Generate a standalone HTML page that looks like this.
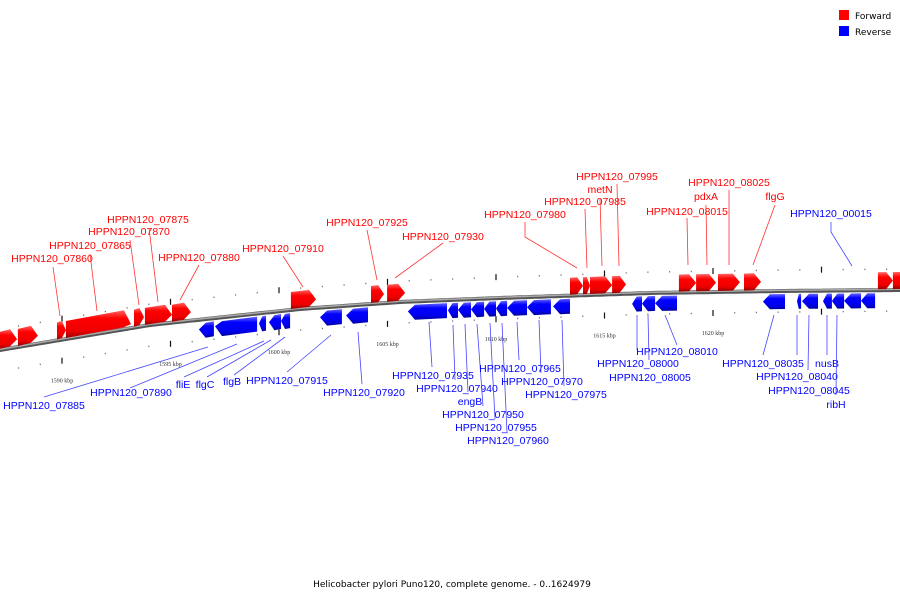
<!DOCTYPE html>
<html><head><meta charset="utf-8">
<style>
body{margin:0;background:#fff;}
svg{display:block;font-family:"DejaVu Sans","Liberation Sans",sans-serif;}
</style></head>
<body>
<svg id="chart" width="900" height="600" viewBox="0 0 900 600">
<defs>
<linearGradient id="gf" x1="0" y1="0" x2="0" y2="1"><stop offset="0" stop-color="#ff6666"/><stop offset="0.3" stop-color="#ff0000"/><stop offset="0.75" stop-color="#ee0000"/><stop offset="1" stop-color="#990000"/></linearGradient>
<linearGradient id="gr" x1="0" y1="0" x2="0" y2="1"><stop offset="0" stop-color="#6666ff"/><stop offset="0.3" stop-color="#0000ff"/><stop offset="0.75" stop-color="#0000ee"/><stop offset="1" stop-color="#000099"/></linearGradient>
</defs>
<g id="ticks"></g>
<g id="backbone"></g>
<g id="genes"></g>
<g id="labels"></g>
<g>
<rect x="839" y="10" width="10" height="10" fill="#ff0000"/>
<text x="855" y="19" font-size="9" fill="#000">Forward</text>
<rect x="839" y="26" width="10" height="10" fill="#0000ff"/>
<text x="855" y="35" font-size="9" fill="#000">Reverse</text>
</g>
<text x="452" y="587" font-size="9" text-anchor="middle" fill="#000">Helicobacter pylori Puno120, complete genome. - 0..1624979</text>
</svg>
<script>
const fwdStart=[1587.0,1587.97,1589.77,1590.18,1593.32,1593.82,1595.07,1600.55,1604.24,1604.98,1613.41,1614.01,1614.33,1615.35,1618.43,1619.22,1620.23,1621.43,1627.60,1628.29];
const fwdEnd  =[1587.93,1588.89,1590.18,1593.18,1593.78,1595.07,1595.94,1601.71,1604.84,1605.81,1614.01,1614.33,1615.35,1615.99,1619.22,1620.14,1621.24,1622.21,1628.29,1629.2];
const revStart=[1596.31,1597.05,1599.08,1599.54,1600.09,1601.89,1603.09,1605.94,1607.79,1608.25,1608.85,1609.45,1610.00,1610.51,1611.43,1612.63,1616.27,1616.73,1617.33,1622.30,1623.87,1624.10,1625.07,1625.48,1626.04,1626.82];
const revEnd  =[1597.00,1598.99,1599.40,1600.09,1600.51,1602.90,1604.10,1607.74,1608.25,1608.85,1609.45,1610.00,1610.51,1611.43,1612.53,1613.41,1616.73,1617.33,1618.34,1623.32,1624.06,1624.84,1625.48,1626.04,1626.82,1627.47];
const majorTicks=[1590,1595,1600,1605,1610,1615,1620,1625];
const tickLabels=["1590 kbp","1595 kbp","1600 kbp","1605 kbp","1610 kbp","1615 kbp","1620 kbp",""];

const NS="http://www.w3.org/2000/svg";
const xs=k=>62+(k-1590)*21.7;
const bb=[[0,350],[150,325],[300,309],[400,302],[500,298],[650,293],[780,291],[900,290]];
function by(x){for(let i=0;i<bb.length-1;i++){const a=bb[i],b=bb[i+1];if(x<=b[0]||i==bb.length-2){const t=(x-a[0])/(b[0]-a[0]);return a[1]+t*(b[1]-a[1]);}}}
function mk(tag,at,parent){const e=document.createElementNS(NS,tag);for(const k in at)e.setAttribute(k,at[k]);parent.appendChild(e);return e;}

const bbG=document.getElementById('backbone');
let d="";for(let x=-5;x<=905;x+=5)d+=(x==-5?"M":"L")+x+","+by(x).toFixed(1);
const bl=mk('path',{d:d,stroke:'#555',"stroke-width":4,fill:'none'},bbG);


const bl2=mk('path',{d:d,stroke:'#aaa',"stroke-width":1.5,fill:'none',transform:'translate(0,-0.7)'},bbG);



const tG=document.getElementById('ticks');
for(let k=1587;k<=1629;k++){
  const x=xs(k);if(x<0||x>900)continue;
  const major=majorTicks.includes(k);
  [-21,21].forEach(off=>{
    const y=by(x)+off;
    const r=mk('rect',{x:x-0.6,y:major?y-3:y-0.6,width:1.2,height:major?6:1.4,fill:major?'#111':'#777'},tG);
    
    
  });
}
majorTicks.forEach((k,i)=>{
  const x=xs(k);if(!tickLabels[i])return;
  const t=mk('text',{x:x,y:by(x)+43,"font-size":6,"text-anchor":"middle",fill:'#333',"font-family":'"Liberation Serif",serif'},tG);
  t.textContent=tickLabels[i];
  
  
});

const gG=document.getElementById('genes');
function gene(s,e,fwd){
  const x1=Math.max(xs(s),-20),x2=xs(e);
  const w=x2-x1, tip=Math.min(7,w*0.45);
  const y1=by(x1),y2=by(x2);
  let pts;
  if(fwd){
    const ym=(y1+y2)/2;
    pts=[[x1,y1-18],[x2-tip,y2-18],[x2,ym-9.5],[x2-tip,y2-1],[x1,y1-1]];
  }else{
    pts=[[x1+tip,y1+3],[x2,y2+3],[x2,y2+18],[x1+tip,y1+18],[x1,(y1+y2)/2+10.5]];
  }
  const p=mk('polygon',{points:pts.map(q=>q[0].toFixed(1)+","+q[1].toFixed(1)).join(" "),fill:fwd?'url(#gf)':'url(#gr)'},gG);
  
  
}
fwdStart.forEach((s,i)=>gene(s,fwdEnd[i],true));
revStart.forEach((s,i)=>gene(s,revEnd[i],false));

const labels=[
 ["HPPN120_07860",52,262,[[53,267],[60,316]],1],
 ["HPPN120_07865",90,249,[[90,254],[97,311]],1],
 ["HPPN120_07870",129,235,[[130,240],[139,305]],1],
 ["HPPN120_07875",148,223,[[149,228],[158,302]],1],
 ["HPPN120_07880",199,261,[[199,265],[180,300]],1],
 ["HPPN120_07910",283,252,[[283,256],[303,287]],1],
 ["HPPN120_07925",367,226,[[367,230],[377,280]],1],
 ["HPPN120_07930",443,240,[[443,243],[395,278]],1],
 ["HPPN120_07980",525,218,[[525,222],[525,237],[577,268]],1],
 ["HPPN120_07985",585,205,[[585,209],[587,268]],1],
 ["metN",600,193,[[600,198],[602,266]],1],
 ["HPPN120_07995",617,180,[[617,184],[619,266]],1],
 ["HPPN120_08015",687,215,[[687,218],[688,265]],1],
 ["pdxA",706,200,[[706,205],[707,265]],1],
 ["HPPN120_08025",729,186,[[729,190],[729,265]],1],
 ["flgG",775,200,[[775,205],[753,265]],1],
 ["HPPN120_00015",831,217,[[831,222],[831,232],[852,266]],0],
 ["HPPN120_07885",44,409,[[44,397],[208,347]],0],
 ["HPPN120_07890",131,396,[[130,388],[237,344]],0],
 ["fliE",183,388,[[184,377],[264,341]],0],
 ["flgC",205,388,[[207,377],[271,340]],0],
 ["flgB",232,385,[[234,375],[285,337]],0],
 ["HPPN120_07915",287,384,[[287,372],[331,335]],0],
 ["HPPN120_07920",364,396,[[362,384],[358,332]],0],
 ["HPPN120_07935",433,379,[[432,367],[429,322]],0],
 ["HPPN120_07940",457,392,[[455,380],[453,325]],0],
 ["engB",470,405,[[468,392],[465,324]],0],
 ["HPPN120_07950",483,418,[[483,406],[477,324]],0],
 ["HPPN120_07955",496,431,[[495,419],[490,323]],0],
 ["HPPN120_07960",508,444,[[507,432],[502,323]],0],
 ["HPPN120_07965",520,372,[[519,360],[517,322]],0],
 ["HPPN120_07970",542,385,[[541,373],[539,320]],0],
 ["HPPN120_07975",566,398,[[564,386],[562,320]],0],
 ["HPPN120_08010",677,355,[[677,345],[665,315]],0],
 ["HPPN120_08000",638,367,[[637,350],[637,315]],0],
 ["HPPN120_08005",650,381,[[649,360],[648,315]],0],
 ["HPPN120_08035",763,367,[[763,355],[774,315]],0],
 ["HPPN120_08040",797,380,[[797,355],[797,315]],0],
 ["HPPN120_08045",809,394,[[808,370],[809,315]],0],
 ["nusB",827,367,[[827,355],[827,315]],0],
 ["ribH",836,408,[[836,395],[837,315]],0]
];
const lG=document.getElementById('labels');
labels.forEach(l=>{
  const col=l[4]?'#ff0000':'#0000ff';
  const pl=mk('polyline',{points:l[3].map(p=>p.join(",")).join(" "),stroke:l[4]?'#ff3333':'#4444ff',"stroke-width":0.8,fill:'none'},lG);
  
  
  const t=mk('text',{x:l[1],y:l[2],"font-size":10.5,"text-anchor":"middle",fill:col,"font-family":'"Liberation Sans",sans-serif'},lG);
  t.textContent=l[0];
  
  
});
</script>
</body></html>
